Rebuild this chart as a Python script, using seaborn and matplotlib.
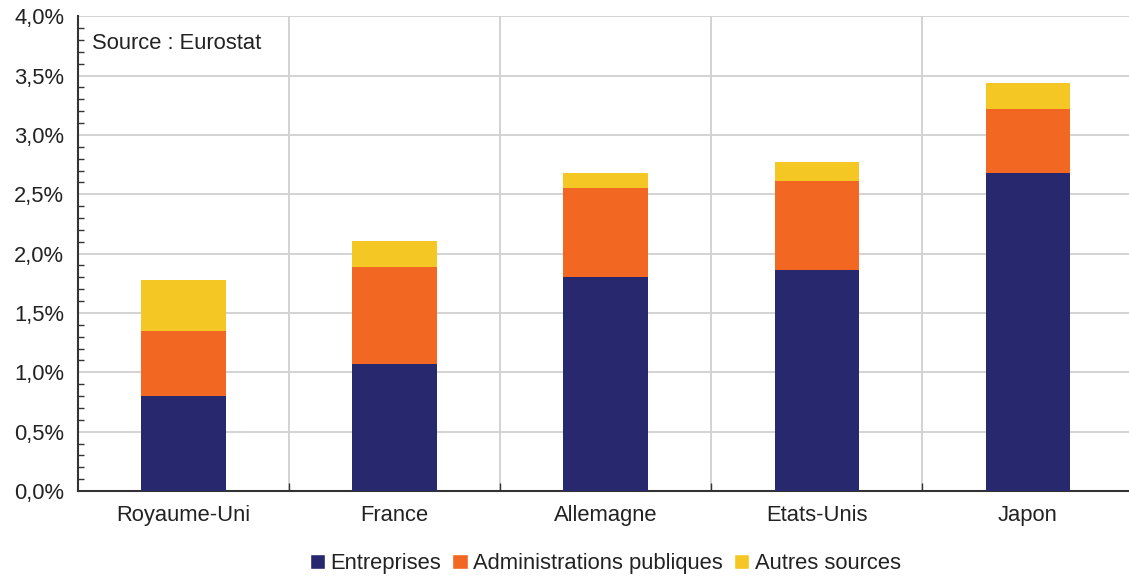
import pandas as pd
import matplotlib.pyplot as plt
import seaborn as sns
from matplotlib.patches import Patch
from matplotlib.ticker import MultipleLocator, FuncFormatter, FixedLocator

# Data (% du PIB)
pays = ["Royaume-Uni", "France", "Allemagne", "Etats-Unis", "Japon"]
entreprises = [0.80, 1.07, 1.80, 1.86, 2.68]
administrations = [0.545, 0.82, 0.755, 0.75, 0.54]
autres = [0.43, 0.22, 0.12, 0.16, 0.22]

series = ["Entreprises", "Administrations publiques", "Autres sources"]
couleurs = ["#28286E", "#F26722", "#F4C724"]

df = pd.DataFrame({"Pays": pays, "Entreprises": entreprises,
                   "Administrations publiques": administrations,
                   "Autres sources": autres})
df["cum1"] = df["Entreprises"]
df["cum2"] = df["cum1"] + df["Administrations publiques"]
df["cum3"] = df["cum2"] + df["Autres sources"]

sns.set_style("white")
plt.rcParams['font.family'] = ['Liberation Sans', 'DejaVu Sans']
fs = 15.8

fig = plt.figure(figsize=(11.29, 5.79), dpi=100)
ax = fig.add_axes([0.069, 0.152, 0.935, 0.820])

# stacked bars: draw cumulative totals from top to bottom
for col, c in zip(["cum3", "cum2", "cum1"], couleurs[::-1]):
    sns.barplot(data=df, x="Pays", y=col, color=c, width=0.4, order=pays,
                saturation=1, linewidth=0, ax=ax, zorder=3)

ax.set_xlim(-0.5, 4.5)
ax.set_ylim(0, 4.0)
ax.yaxis.set_major_locator(MultipleLocator(0.5))
ax.yaxis.set_minor_locator(MultipleLocator(0.1))
ax.yaxis.set_major_formatter(FuncFormatter(lambda v, p: f"{v:.1f}%".replace(".", ",")))
ax.xaxis.set_minor_locator(FixedLocator([0.5, 1.5, 2.5, 3.5]))

ax.grid(axis="y", which="major", color="#d0d0d0", linewidth=1.3, zorder=0)
ax.grid(axis="x", which="minor", color="#d0d0d0", linewidth=1.3, zorder=0)
ax.set_axisbelow(True)

ax.tick_params(axis="y", which="major", direction="inout", length=10, width=1,
               color="#333333", labelsize=fs, labelcolor="#222222", pad=5)
ax.tick_params(axis="y", which="minor", direction="in", length=4, width=1,
               color="#333333", left=True)
ax.tick_params(axis="x", which="major", length=0, labelsize=fs,
               labelcolor="#222222", pad=10)
ax.tick_params(axis="x", which="minor", direction="in", length=6, width=1,
               color="#333333", bottom=True)

for s in ["top", "right"]:
    ax.spines[s].set_visible(False)
for s in ["left", "bottom"]:
    ax.spines[s].set_color("#333333")
    ax.spines[s].set_linewidth(1.5)

ax.set_xlabel("")
ax.set_ylabel("")

ax.text(0.013, 0.965, "Source : Eurostat", transform=ax.transAxes, fontsize=fs,
        color="#222222", va="top", ha="left")

handles = [Patch(facecolor=c, label=s) for s, c in zip(series, couleurs)]
fig.legend(handles=handles, loc="center", bbox_to_anchor=(0.536, 0.027), ncol=3,
           frameon=False, fontsize=fs, handlelength=0.7, handleheight=0.7,
           handletextpad=0.25, columnspacing=0.5, labelcolor="#222222")

plt.savefig("out.png", dpi=100)
